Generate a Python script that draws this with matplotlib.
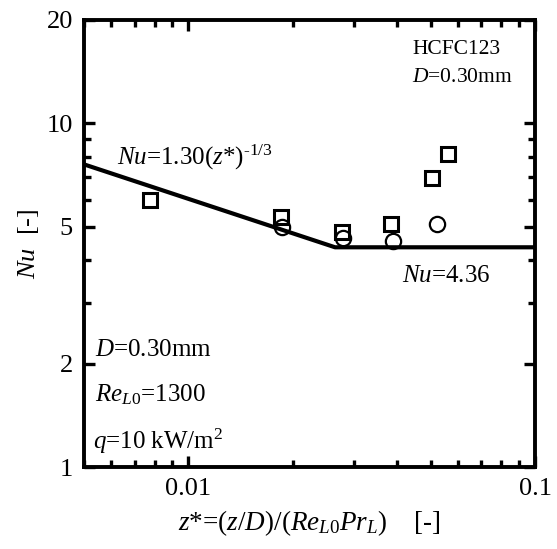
import matplotlib
matplotlib.use("Agg")
import matplotlib.pyplot as plt
from matplotlib.ticker import FixedLocator, NullFormatter, FixedFormatter

plt.rcParams['font.family'] = ['Liberation Serif', 'DejaVu Serif']
plt.rcParams['mathtext.fontset'] = 'custom'
plt.rcParams['mathtext.rm'] = 'Liberation Serif'
plt.rcParams['mathtext.it'] = 'Liberation Serif:italic'
plt.rcParams['mathtext.bf'] = 'Liberation Serif:bold'

# correlation line, break points
z_line = [0.005, 0.0265, 0.1]
nu_line = [7.60, 4.36, 4.36]

# measured points
z_sq = [0.00776, 0.0185, 0.0278, 0.0385, 0.0506, 0.0560]
nu_sq = [5.98, 5.34, 4.83, 5.10, 6.93, 8.15]
z_ci = [0.0186, 0.0280, 0.0390, 0.0520]
nu_ci = [4.99, 4.64, 4.55, 5.10]

y_major = [1, 2, 5, 10, 20]
y_minor = [3, 4, 6, 7, 8, 9]
x_major = [0.01, 0.1]
x_minor = [0.005, 0.006, 0.007, 0.008, 0.009,
           0.02, 0.03, 0.04, 0.05, 0.06, 0.07, 0.08, 0.09]

fig = plt.figure(figsize=(5.57, 5.49), dpi=100)
ax = fig.add_axes([84/557, 1-467/549, (535-84)/557, (467-20)/549])
ax.set_xscale('log')
ax.set_yscale('log')
ax.set_xlim(0.005, 0.1)
ax.set_ylim(1, 20)

ax.plot(z_line, nu_line, color='black', lw=3, solid_capstyle='butt')
ax.plot(z_ci, nu_ci, linestyle='none', marker='o', ms=11, mfc='none',
        mec='black', mew=1.6)
ax.plot(z_sq, nu_sq, linestyle='none', marker='s', ms=9.5, mfc='none',
        mec='black', mew=2.2)

ax.yaxis.set_major_locator(FixedLocator(y_major))
ax.yaxis.set_major_formatter(FixedFormatter([str(v) for v in y_major]))
ax.yaxis.set_minor_locator(FixedLocator(y_minor))
ax.yaxis.set_minor_formatter(NullFormatter())
ax.xaxis.set_major_locator(FixedLocator(x_major))
ax.xaxis.set_major_formatter(FixedFormatter(['0.01', '0.1']))
ax.xaxis.set_minor_locator(FixedLocator(x_minor))
ax.xaxis.set_minor_formatter(NullFormatter())

ax.tick_params(which='both', direction='in', top=True, right=True,
               width=2.4, labelsize=19, pad=8)
ax.tick_params(which='major', length=8)
ax.tick_params(which='minor', length=5)
for s in ax.spines.values():
    s.set_linewidth(2.8)

ax.set_xlabel(r'$\mathit{z}$*=($\mathit{z/D}$)/($\mathit{Re}_{\mathit{L0}}\mathit{Pr}_{\mathit{L}}$)    [-]',
              fontsize=19.5, labelpad=6)
ax.set_ylabel(r'$\mathit{Nu}$  [-]', fontsize=19, labelpad=4)

def px(x, y):
    return ((x - 84) / (535 - 84), (467 - y) / (467 - 20))

tr = ax.transAxes
ax.text(*px(117, 157), r'$\mathit{Nu}$=1.30($\mathit{z}$*)$^{\text{-1/3}}$',
        transform=tr, fontsize=18, va='center', ha='left')
ax.text(*px(402, 276), r'$\mathit{Nu}$=4.36', transform=tr, fontsize=18,
        va='center', ha='left')
ax.text(*px(412, 49), 'HCFC123', transform=tr, fontsize=15.5,
        va='center', ha='left')
ax.text(*px(412, 77), r'$\mathit{D}$=0.30mm', transform=tr, fontsize=15.5,
        va='center', ha='left')
ax.text(*px(95, 350), r'$\mathit{D}$=0.30mm', transform=tr, fontsize=18,
        va='center', ha='left')
ax.text(*px(95, 401), r'$\mathit{Re}_{\mathit{L0}}$=1300', transform=tr,
        fontsize=18, va='baseline', ha='left')
ax.text(*px(93, 441), r'$\mathit{q}$=10 kW/m$^{2}$', transform=tr,
        fontsize=18, va='center', ha='left')

fig.savefig('out.png', dpi=100)
